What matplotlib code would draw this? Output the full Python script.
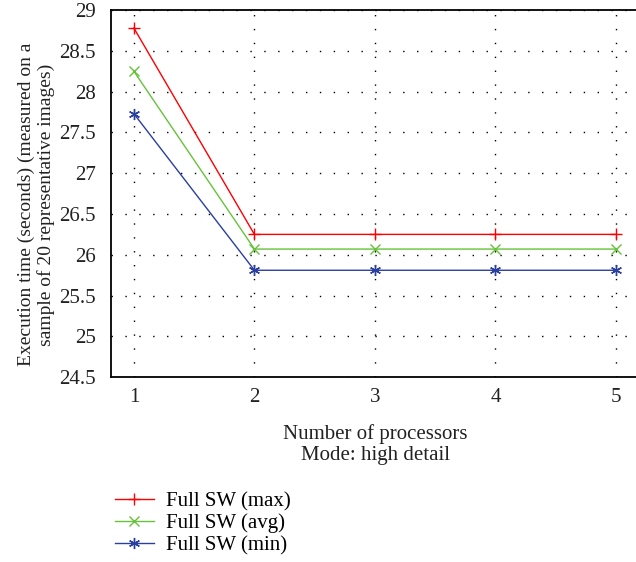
import matplotlib.pyplot as plt

processors = [1, 2, 3, 4, 5]
t_max = [28.78, 26.25, 26.25, 26.25, 26.25]
t_avg = [28.25, 26.07, 26.07, 26.07, 26.07]
t_min = [27.73, 25.81, 25.81, 25.81, 25.81]

plt.rcParams["font.family"] = ["Liberation Serif", "DejaVu Serif"]

fig = plt.figure(figsize=(6.36, 5.62), dpi=100)
ax = fig.add_axes([0.1745, 0.329, 0.832, 0.653])

ax.plot(processors, t_max, color="#ff0000", lw=1, marker="+", ms=9, mew=1, label="Full SW (max)")
ax.plot(processors, t_avg, color="#66c23a", lw=1, marker="x", ms=7, mew=1, label="Full SW (avg)")
ax.plot(processors, t_min, color="#2a3f9e", lw=1, marker=(6, 2, 0), ms=8, mew=1, label="Full SW (min)")

ax.set_xlim(0.81, 5.2)
ax.set_ylim(24.5, 29)
ax.set_xticks(processors)
ax.set_yticks([24.5, 25, 25.5, 26, 26.5, 27, 27.5, 28, 28.5, 29])
ax.set_yticklabels(["24.5", "25", "25.5", "26", "26.5", "27", "27.5", "28", "28.5", "29"])
ax.tick_params(labelsize=15, length=0, colors="#222222")
ax.tick_params(axis="y", pad=11)
ax.tick_params(axis="x", pad=8)
ax.grid(True, color="black", linestyle=(0, (1, 9)), lw=1)
for s in ["left", "bottom", "top"]:
    ax.spines[s].set_linewidth(1.3)
ax.spines["right"].set_visible(False)

ax.set_xlabel("Number of processors\nMode: high detail", fontsize=15, labelpad=12,
              color="#222222", linespacing=1.15)
ax.set_ylabel("Execution time (seconds) (measured on a\nsample of 20 representative images)",
              fontsize=14, labelpad=8, color="#222222", linespacing=1.15)
ax.yaxis.set_label_coords(-0.105, 0.47)

fig.legend(loc="upper left", bbox_to_anchor=(0.167, 0.14), frameon=False, fontsize=15,
           handlelength=1.9, labelspacing=0.12, handletextpad=0.55, borderaxespad=0)

fig.savefig("out.png", dpi=100)
